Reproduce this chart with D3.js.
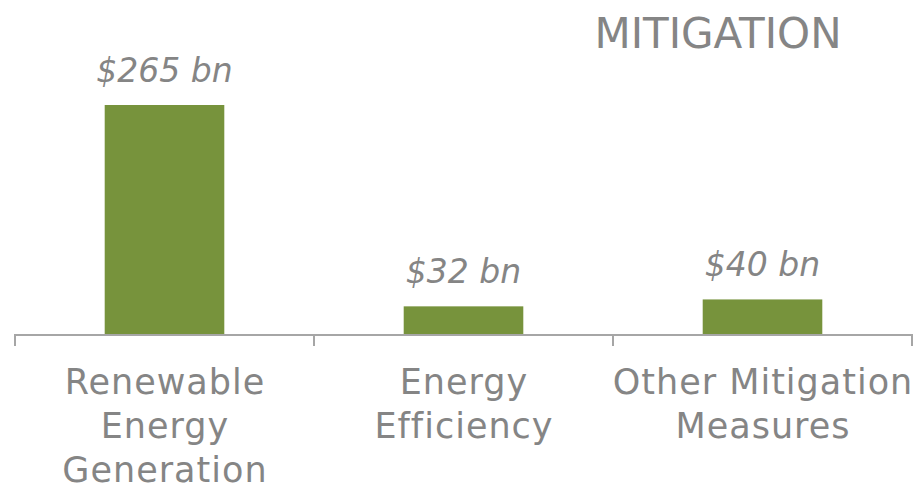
<!DOCTYPE html>
<html>
<head>
<meta charset="utf-8">
<script src="https://cdn.jsdelivr.net/npm/d3@7"></script>
<style>
  html, body { margin: 0; padding: 0; background: #ffffff; }
  svg { display: block; }
</style>
</head>
<body>
<svg id="chart" width="913" height="489"></svg>
<script>
const categories = [
  ["Renewable", "Energy", "Generation"],
  ["Energy", "Efficiency"],
  ["Other Mitigation", "Measures"]
];
const categoryKeys = ["Renewable Energy Generation", "Energy Efficiency", "Other Mitigation Measures"];
const values = [265, 32, 40];
const valueLabels = ["$265 bn", "$32 bn", "$40 bn"];
const title = "MITIGATION";

const W = 913, H = 489;
const baseY = 334;
const svg = d3.select("#chart");

const x = d3.scaleBand().domain(categoryKeys).range([15, 912]).paddingInner(0).paddingOuter(0);
const y = d3.scaleLinear().domain([0, 265]).range([baseY, 105]);

const barW = x.bandwidth() * 0.4;
const textColor = "#858585";

// bars
svg.selectAll("rect.bar").data(values).join("rect")
  .attr("class", "bar")
  .attr("x", (d, i) => x(categoryKeys[i]) + x.bandwidth() / 2 - barW / 2)
  .attr("width", barW)
  .attr("y", d => y(d))
  .attr("height", d => baseY - y(d))
  .attr("fill", "#77933C");

// axis line & ticks
const axisG = svg.append("g");
axisG.append("line")
  .attr("x1", 15).attr("x2", W)
  .attr("y1", baseY + 1).attr("y2", baseY + 1)
  .attr("stroke", "#A6A6A6").attr("stroke-width", 2);
const edges = categoryKeys.map(k => x(k)).concat([x.range()[1]]);
axisG.selectAll("line.tick").data(edges).join("line")
  .attr("class", "tick")
  .attr("x1", d => d).attr("x2", d => d)
  .attr("y1", baseY).attr("y2", baseY + 12)
  .attr("stroke", "#A6A6A6").attr("stroke-width", 2);

// value labels
svg.selectAll("text.val").data(values).join("text")
  .attr("class", "val")
  .attr("x", (d, i) => x(categoryKeys[i]) + x.bandwidth() / 2)
  .attr("y", d => y(d) - 23)
  .attr("text-anchor", "middle")
  .attr("font-family", "DejaVu Sans")
  .attr("font-style", "italic")
  .attr("font-size", 33)
  .attr("fill", textColor)
  .text((d, i) => valueLabels[i]);

// category labels
const catG = svg.selectAll("text.cat").data(categories).join("text")
  .attr("class", "cat")
  .attr("y", 394)
  .attr("text-anchor", "middle")
  .attr("font-family", "DejaVu Sans")
  .attr("font-size", 35)
  .attr("letter-spacing", 1)
  .attr("fill", textColor);
catG.each(function(lines, i) {
  const cx = x(categoryKeys[i]) + x.bandwidth() / 2 + 0.5;
  d3.select(this).selectAll("tspan").data(lines).join("tspan")
    .attr("x", cx)
    .attr("dy", (d, j) => j === 0 ? 0 : 44)
    .text(d => d);
});

// title
svg.append("text")
  .attr("x", 718)
  .attr("y", 48)
  .attr("text-anchor", "middle")
  .attr("font-family", "DejaVu Sans")
  .attr("font-size", 42)
  .attr("fill", textColor)
  .text(title);
</script>
</body>
</html>
